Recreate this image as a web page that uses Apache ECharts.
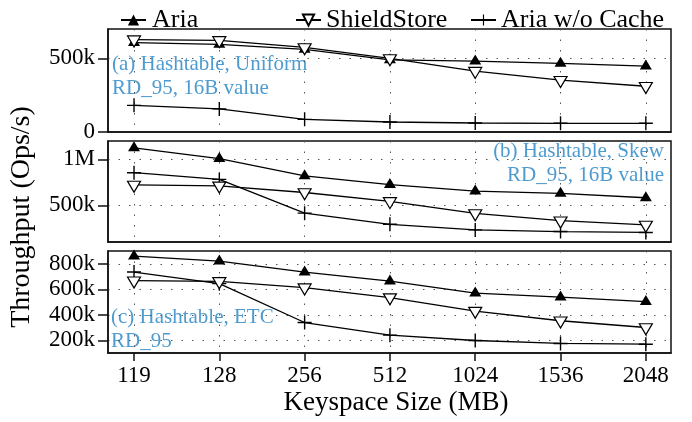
<!DOCTYPE html>
<html>
<head>
<meta charset="utf-8">
<script src="https://cdn.jsdelivr.net/npm/echarts@6/dist/echarts.min.js"></script>
<style>
  html, body { margin: 0; padding: 0; background: #fff; }
  #chart { width: 692px; height: 422px; }
</style>
</head>
<body>
<div id="chart"></div>
<script>
// Keyspace sizes (MB) on the shared x axis
const categories = ['119', '128', '256', '512', '1024', '1536', '2048'];

// Throughput in thousands of ops/s
// (a) Hashtable, Uniform, RD_95, 16B value
const ariaUniform    = [608, 595, 561, 490, 482, 466, 448];
const shieldUniform  = [628, 623, 575, 500, 414, 352, 311];
const noCacheUniform = [181, 157, 86, 68, 61, 59, 59];

// (b) Hashtable, Skew, RD_95, 16B value
const ariaSkew    = [1125, 1007, 821, 725, 654, 629, 582];
const shieldSkew  = [722, 712, 639, 543, 411, 332, 286];
const noCacheSkew = [855, 782, 414, 293, 232, 214, 204];

// (c) Hashtable, ETC, RD_95
const ariaEtc    = [860, 821, 735, 664, 570, 539, 503];
const shieldEtc  = [667, 662, 613, 535, 429, 353, 300];
const noCacheEtc = [735, 644, 339, 240, 198, 175, 169];

// Tick values per panel (thousands)
const ticksUniform = [0, 500];
const ticksSkew = [500, 1000];
const ticksEtc = [200, 400, 600, 800];

const SERIF = '"Liberation Serif", "DejaVu Serif", serif';
const BLUE = '#4e9bcf';
const INK = '#111';
const dotted = { color: '#555', width: 1, type: [1.5, 9] };

const grids = [
  { left: 108, right: 21, top: 29, height: 103 },
  { left: 108, right: 21, top: 141, height: 101 },
  { left: 108, right: 21, top: 251, height: 102 }
].map(g => Object.assign(g, {
  show: true, borderColor: INK, borderWidth: 1.5, backgroundColor: 'transparent'
}));

const xIdx = categories.map((_, i) => i);

function xAxis(gridIndex, withLabels) {
  return {
    type: 'value', gridIndex, min: -0.305, max: 6.295, position: 'bottom',
    axisLine: { show: true, onZero: false, lineStyle: { color: INK, width: 1.5 } },
    axisTick: { show: withLabels, customValues: xIdx, length: 8, inside: false,
                lineStyle: { color: INK, width: 1.5 } },
    axisLabel: { show: withLabels, customValues: xIdx, margin: 11,
                 formatter: v => categories[Math.round(v)],
                 fontFamily: SERIF, fontSize: 23, color: '#000' },
    splitLine: { show: true, lineStyle: dotted }
  };
}

function kLabel(v) {
  if (v === 0) return '0';
  if (v >= 1000) return (v / 1000) + 'M';
  return v + 'k';
}

function yAxis(gridIndex, min, max, ticks) {
  return {
    type: 'value', gridIndex, min, max, position: 'left',
    axisLine: { show: true, onZero: false, lineStyle: { color: INK, width: 1.5 } },
    axisTick: { show: true, customValues: ticks, length: 10,
                lineStyle: { color: INK, width: 1.5 } },
    axisLabel: { customValues: ticks, formatter: kLabel, margin: 13,
                 fontFamily: SERIF, fontSize: 23, color: '#000' },
    splitLine: { show: true, lineStyle: dotted }
  };
}

const PLUS = 'path://M-1,-10 H1 V-1 H10 V1 H1 V10 H-1 V1 H-10 V-1 H-1 Z';

const styles = {
  'Aria': { symbol: 'triangle', symbolSize: [12, 10], symbolOffset: [0, -1.6],
            itemStyle: { color: '#000' } },
  'ShieldStore': { symbol: 'triangle', symbolRotate: 180, symbolSize: [13, 11],
                   symbolOffset: [0, 1.8],
                   itemStyle: { color: '#fff', borderColor: '#000', borderWidth: 1.2 } },
  'Aria w/o Cache': { symbol: PLUS, symbolSize: 14, itemStyle: { color: '#000' } }
};

function line(name, values, axisIndex) {
  return Object.assign({
    type: 'line', name,
    xAxisIndex: axisIndex, yAxisIndex: axisIndex,
    data: values.map((v, i) => [i, v]),
    showSymbol: true, animation: false,
    lineStyle: { color: '#000', width: 1.3 },
    z: name === 'Aria w/o Cache' ? 2 : 3
  }, JSON.parse(JSON.stringify(styles[name])));
}

const series = [
  line('Aria', ariaUniform, 0), line('ShieldStore', shieldUniform, 0), line('Aria w/o Cache', noCacheUniform, 0),
  line('Aria', ariaSkew, 1), line('ShieldStore', shieldSkew, 1), line('Aria w/o Cache', noCacheSkew, 1),
  line('Aria', ariaEtc, 2), line('ShieldStore', shieldEtc, 2), line('Aria w/o Cache', noCacheEtc, 2)
];

function legend(name, left, pad) {
  return {
    data: [name], left, top: 2, itemWidth: 25, itemHeight: 14,
    selectedMode: false,
    textStyle: { fontFamily: SERIF, fontSize: 26, color: '#000', padding: [0, 0, 0, pad] }
  };
}

function note(lines, x, y, align) {
  return lines.map((t, i) => ({
    type: 'text', x, y: y + i * 24, silent: true,
    style: { text: t, fontFamily: SERIF, fontSize: 21, fill: BLUE,
             align, verticalAlign: 'middle' }
  }));
}

const chart = echarts.init(document.getElementById('chart'), null, { renderer: 'canvas' });
chart.setOption({
  animation: false,
  backgroundColor: '#fff',
  grid: grids,
  xAxis: [xAxis(0, false), xAxis(1, false), xAxis(2, true)],
  yAxis: [yAxis(0, 0, 700, ticksUniform), yAxis(1, 100, 1200, ticksSkew), yAxis(2, 100, 900, ticksEtc)],
  legend: [legend('Aria', 115, 1), legend('ShieldStore', 290, 0), legend('Aria w/o Cache', 465, 0)],
  series,
  graphic: [
    ...note(['(a) Hashtable, Uniform', 'RD_95, 16B value'], 112, 64, 'left'),
    ...note(['(b) Hashtable, Skew', 'RD_95, 16B value'], 664, 151, 'right'),
    ...note(['(c) Hashtable, ETC', 'RD_95'], 111, 317, 'left'),
    { type: 'text', x: 396, y: 403, silent: true,
      style: { text: 'Keyspace Size (MB)', fontFamily: SERIF, fontSize: 27, fill: '#000',
               align: 'center', verticalAlign: 'middle' } },
    { type: 'text', x: 22, y: 217, rotation: Math.PI / 2, silent: true,
      style: { text: 'Throughput (Ops/s)', fontFamily: SERIF, fontSize: 28, fill: '#000',
               align: 'center', verticalAlign: 'middle' } }
  ]
});
</script>
</body>
</html>
